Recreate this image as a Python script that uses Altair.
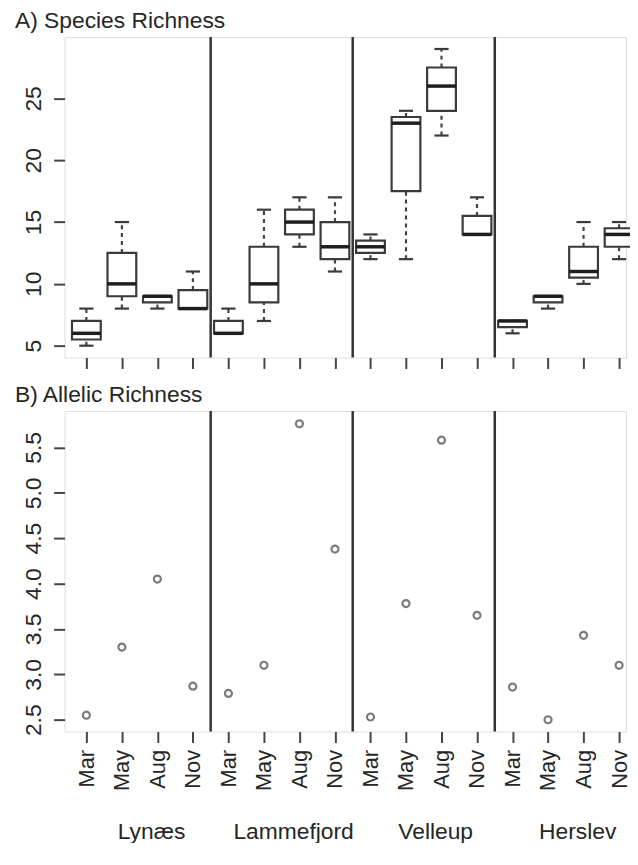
import altair as alt
import pandas as pd

sites = ["Lynæs", "Lammefjord", "Velleup", "Herslev"]
months = ["Mar", "May", "Aug", "Nov"]

# Species richness box statistics (16 boxes: site x month)
sr_min = [5, 8, 8, 8,     6, 7, 13, 11,     12, 12, 22, 14,     6, 8, 10, 12]
sr_q1  = [5.5, 9, 8.5, 8, 6, 8.5, 14, 12,   12.5, 17.5, 24, 14, 6.5, 8.5, 10.5, 13]
sr_med = [6, 10, 9, 8,    6, 10, 15, 13,    13, 23, 26, 14,     7, 9, 11, 14]
sr_q3  = [7, 12.5, 9, 9.5, 7, 13, 16, 15,   13.5, 23.5, 27.5, 15.5, 7, 9, 13, 14.5]
sr_max = [8, 15, 9, 11,   8, 16, 17, 17,    14, 24, 29, 17,     7, 9, 15, 15]

# Allelic richness
ar = [2.55, 3.30, 4.05, 2.87, 2.79, 3.10, 5.76, 4.38,
      2.53, 3.78, 5.58, 3.65, 2.86, 2.50, 3.43, 3.10]

n = len(sites) * len(months)
df = pd.DataFrame({
    "idx": list(range(1, n + 1)),
    "site": [s for s in sites for _ in months],
    "month": [m for _ in sites for m in months],
    "lo": sr_min, "q1": sr_q1, "med": sr_med, "q3": sr_q3, "hi": sr_max,
    "ar": ar,
})
BOX_HALF = 0.405
CAP_HALF = 0.2
df["bx0"] = df["idx"] - BOX_HALF
df["bx1"] = df["idx"] + BOX_HALF
df["cx0"] = df["idx"] - CAP_HALF
df["cx1"] = df["idx"] + CAP_HALF

nm = len(months)
seps = pd.DataFrame({"x": [k * nm + 0.5 for k in range(1, len(sites))]})
site_lab = pd.DataFrame({"site": sites,
                         "xc": [k * nm + (nm + 1) / 2 for k in range(len(sites))]})

FONT = "Liberation Sans"
TXT = "#262626"
LINE = "#3a3a3a"
W = 566
HA = 323
HB = 323

xscale = alt.Scale(domain=[0.3855, 16.196], nice=False, zero=False)
label_expr = "[" + ",".join("'%s'" % m for m in months) + "][(datum.value - 1) % " + str(nm) + "]"
xticks = list(range(1, n + 1))

def xaxis(labels):
    common = dict(values=xticks, tickCount=40, tickSize=11, tickWidth=2, tickColor="#444",
                  domain=False, grid=False, title=None)
    if labels:
        return alt.Axis(labels=True, labelExpr=label_expr,
                        labelAngle=270, labelAlign="right", labelBaseline="middle",
                        labelFontSize=22, labelFont=FONT, labelColor=TXT, labelPadding=7,
                        labelOverlap=False, labelFlush=False, **common)
    return alt.Axis(labels=False, **common)

def yaxis(vals, fmt):
    return alt.Axis(values=vals, tickCount=40, format=fmt, labelAngle=270, labelAlign="center",
                    labelBaseline="bottom", labelFontSize=23, labelFont=FONT,
                    labelColor=TXT, labelPadding=8, labelOverlap=False, labelFlush=False,
                    tickSize=11, tickWidth=2,
                    tickColor="#444", domain=False, grid=False, title=None)

yA = alt.Scale(domain=[4.04, 29.96], nice=False, zero=False)
yB = alt.Scale(domain=[2.37, 5.9], nice=False, zero=False)

base = alt.Chart(df)

sep_A = alt.Chart(seps).mark_rule(color="#333", strokeWidth=2.5).encode(
    x=alt.X("x:Q", scale=xscale, axis=xaxis(False)))
whisk_up = base.mark_rule(color="#444", strokeWidth=2.2, strokeDash=[4, 4]).encode(
    x=alt.X("idx:Q", scale=xscale, axis=xaxis(False)),
    y=alt.Y("q3:Q", scale=yA, axis=yaxis([5, 10, 15, 20, 25], "d")),
    y2="hi:Q")
whisk_lo = base.mark_rule(color="#444", strokeWidth=2.2, strokeDash=[4, 4]).encode(
    x="idx:Q", y="lo:Q", y2="q1:Q")
cap_hi = base.mark_rule(color=LINE, strokeWidth=2.2).encode(x="cx0:Q", x2="cx1:Q", y="hi:Q")
cap_lo = base.mark_rule(color=LINE, strokeWidth=2.2).encode(x="cx0:Q", x2="cx1:Q", y="lo:Q")
box = base.mark_rect(fill="white", stroke=LINE, strokeWidth=2.2).encode(
    x="bx0:Q", x2="bx1:Q", y="q1:Q", y2="q3:Q")
median = base.mark_rule(color="#1e1e1e", strokeWidth=3.5).encode(
    x="bx0:Q", x2="bx1:Q", y="med:Q")

title_kw = dict(anchor="start", fontSize=23, font=FONT, fontWeight="normal", color=TXT,
                frame="group", dx=-50, offset=3)

panelA = alt.layer(sep_A, whisk_up, whisk_lo, cap_hi, cap_lo, box, median).properties(
    width=W, height=HA, title=alt.TitleParams("A) Species Richness", **title_kw))

sep_B = alt.Chart(seps).mark_rule(color="#333", strokeWidth=2.5).encode(
    x=alt.X("x:Q", scale=xscale, axis=xaxis(True)))
pts = base.mark_point(shape="circle", filled=False, size=50, strokeWidth=2.2, color="#444").encode(
    x=alt.X("idx:Q", scale=xscale, axis=xaxis(True)),
    y=alt.Y("ar:Q", scale=yB, axis=yaxis([2.5, 3.0, 3.5, 4.0, 4.5, 5.0, 5.5], ".1f")))
names = alt.Chart(site_lab).mark_text(fontSize=23, font=FONT, color=TXT, dx=12,
                                      baseline="middle").encode(
    x="xc:Q", y=alt.value(HB + 101), text="site:N")

panelB = alt.layer(sep_B, pts, names).properties(
    width=W, height=HB, title=alt.TitleParams("B) Allelic Richness", **title_kw))

chart = alt.vconcat(panelA, panelB, spacing=13).properties(
    padding={"left": 6, "top": -2, "right": -6, "bottom": -5}
).configure_view(stroke="#7f7f7f", strokeWidth=2).configure(background="white")

chart.save("out.html", embed_options={"renderer": "svg", "actions": False})
